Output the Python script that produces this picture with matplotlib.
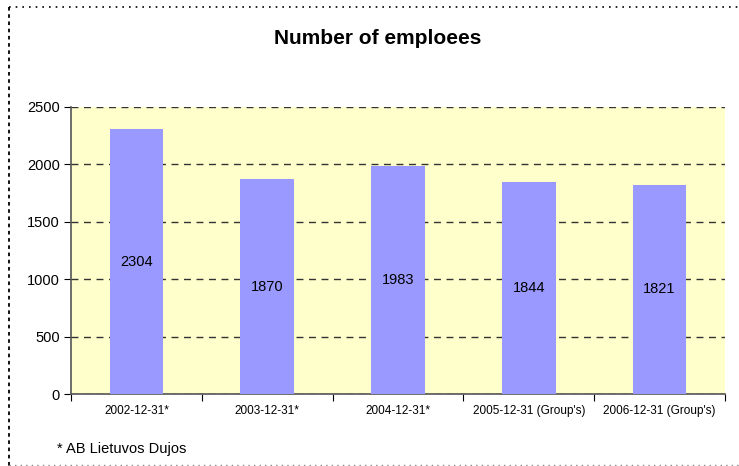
import matplotlib
matplotlib.use("Agg")
import matplotlib.pyplot as plt
from matplotlib.lines import Line2D

plt.rcParams['font.family'] = ['Liberation Sans', 'DejaVu Sans']

categories = ["2002-12-31*", "2003-12-31*", "2004-12-31*", "2005-12-31 (Group's)", "2006-12-31 (Group's)"]
employees = [2304, 1870, 1983, 1844, 1821]
yticks = [0, 500, 1000, 1500, 2000, 2500]

fig = plt.figure(figsize=(7.39, 4.66), dpi=100)
ax = fig.add_axes([0.0961, 0.1545, 0.8849, 0.6159])
ax.set_facecolor('#FFFFCC')

x = list(range(len(categories)))
bars = ax.bar(x, employees, width=0.41, color='#9999FF', zorder=3)
for xi, v in zip(x, employees):
    ax.text(xi, v / 2, str(v), ha='center', va='center', fontsize=10.5, color='black', zorder=4)

ax.set_xlim(-0.5, len(categories) - 0.5)
ax.set_ylim(0, 2500)
ax.set_yticks(yticks)
ax.set_yticklabels([str(t) for t in yticks], fontsize=10.5)
ax.yaxis.grid(True, linestyle=(0, (5, 4)), color='#333333', linewidth=1.0, zorder=1)
ax.set_xticks([i - 0.5 for i in range(len(categories) + 1)])
ax.set_xticklabels([])
ax.set_xticks(x, minor=True)
ax.set_xticklabels(categories, minor=True, fontsize=8.5)
ax.tick_params(axis='x', which='minor', length=0, pad=8)
ax.tick_params(axis='x', which='major', length=5, direction='out', color='black')
ax.tick_params(axis='y', length=5, direction='out', color='black', pad=3)
for s in ['top', 'right']:
    ax.spines[s].set_visible(False)
ax.spines['left'].set_color('#555555')
ax.spines['bottom'].set_color('#555555')
ax.spines['left'].set_linewidth(1.2)
ax.spines['bottom'].set_linewidth(1.2)

fig.text(0.511, 0.918, "Number of emploees", ha='center', va='center', fontsize=15, fontweight='bold')
fig.text(0.077, 0.036, "* AB Lietuvos Dujos", ha='left', va='center', fontsize=10.5)

# dotted border
W, H = 739, 466
fig.add_artist(Line2D([9 / W, 1.0], [1 - 7 / H, 1 - 7 / H], transform=fig.transFigure,
                      color='black', linestyle=(0, (1, 3)), linewidth=1.2))
fig.add_artist(Line2D([9 / W, 9 / W], [1 - 7 / H, 0], transform=fig.transFigure,
                      color='black', linestyle=(0, (2, 2)), linewidth=1.3))
fig.add_artist(Line2D([9 / W, 1.0], [1.5 / H, 1.5 / H], transform=fig.transFigure,
                      color='#888888', linestyle=(0, (1, 3)), linewidth=1.0))

fig.savefig("out.png", dpi=100)
